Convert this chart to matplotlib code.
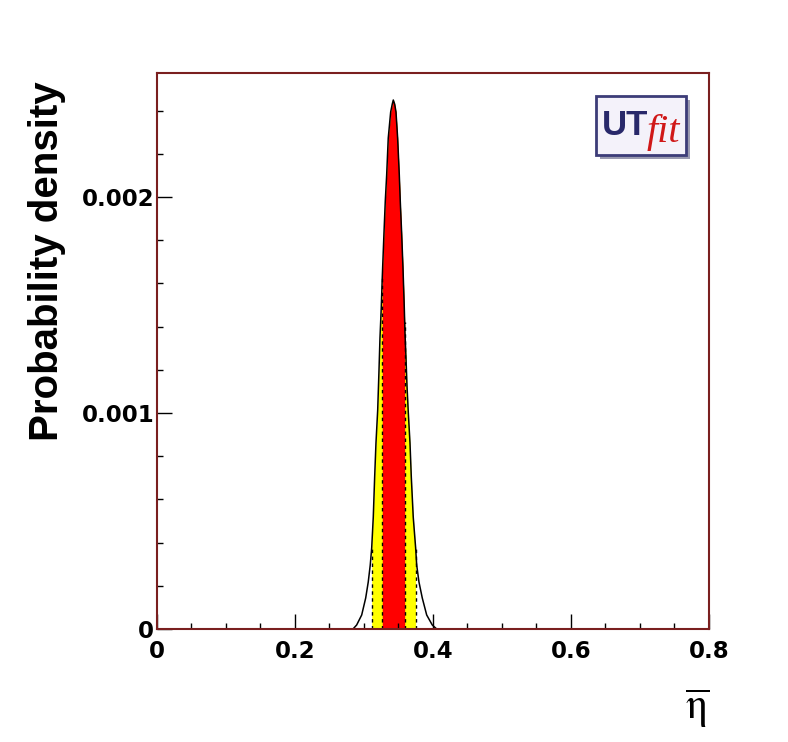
import numpy as np
import matplotlib
matplotlib.use("Agg")
import matplotlib.pyplot as plt
from matplotlib.patches import Rectangle
from matplotlib.ticker import MultipleLocator

# posterior of eta-bar
eta = np.array([0.2841, 0.2894, 0.2967, 0.3025, 0.3062, 0.3091, 0.3112, 0.3135,
                0.3155, 0.3174, 0.3199, 0.3217, 0.3232, 0.3251, 0.3265, 0.3271,
                0.3290, 0.3309, 0.3329, 0.3352, 0.3387, 0.3410, 0.3425, 0.3445,
                0.3464, 0.3488, 0.3512, 0.3526, 0.3546, 0.3565, 0.3584, 0.3590,
                0.3594, 0.3609, 0.3623, 0.3642, 0.3667, 0.3686, 0.3714, 0.3749,
                0.3764, 0.3797, 0.3845, 0.3909, 0.3990, 0.4054])
pdf = np.array([0.0, 0.0185, 0.0648, 0.1435, 0.2176, 0.2963, 0.375, 0.5185,
                0.7037, 0.8611, 1.0139, 1.1898, 1.3472, 1.4907, 1.625, 1.6759,
                1.8333, 1.9815, 2.1019, 2.2731, 2.3935, 2.430, 2.449, 2.430,
                2.3935, 2.2731, 2.1019, 1.9815, 1.8333, 1.6759, 1.4907, 1.421,
                1.375, 1.2546, 1.1296, 1.0046, 0.8611, 0.7037, 0.5185, 0.375,
                0.2963, 0.2176, 0.1435, 0.0648, 0.0185, 0.0]) * 1e-3

ci68 = [0.3265, 0.3590]
ci95 = [0.3112, 0.3749]

frame = "#7a1f1f"
plt.rcParams["mathtext.fontset"] = "stix"

fig = plt.figure(figsize=(7.88, 7.42), dpi=100)
ax = fig.add_axes([0.1992, 0.1523, 0.7005, 0.7493])

m95 = (eta >= ci95[0]) & (eta <= ci95[1])
m68 = (eta >= ci68[0]) & (eta <= ci68[1])
ax.fill_between(eta, 0, pdf, where=m95, color="#ffff00", lw=0)
ax.fill_between(eta, 0, pdf, where=m68, color="#ff0000", lw=0)
for e in ci95 + ci68:
    i = np.argmin(abs(eta - e))
    ax.vlines(eta[i], 0, pdf[i], colors="black", linestyles=(0, (2.5, 2.5)), lw=1)
ax.plot(eta, pdf, color="black", lw=1.1)

ax.set_xlim(0, 0.8)
ax.set_ylim(0, 0.002574)
ax.xaxis.set_major_locator(MultipleLocator(0.2))
ax.xaxis.set_minor_locator(MultipleLocator(0.05))
ax.yaxis.set_major_locator(MultipleLocator(0.001))
ax.yaxis.set_minor_locator(MultipleLocator(0.0002))
ax.xaxis.set_major_formatter(plt.FuncFormatter(lambda v, p: "0" if v == 0 else "%g" % v))
ax.yaxis.set_major_formatter(plt.FuncFormatter(lambda v, p: "0" if v == 0 else "%.3f" % v))

ax.tick_params(which="both", direction="in", top=False, right=False, color="black", width=1)
ax.tick_params(which="major", length=10.5)
ax.tick_params(which="minor", length=4.5)
ax.tick_params(axis="x", which="major", pad=8)
ax.tick_params(axis="y", which="major", pad=2)
for lab in ax.get_xticklabels() + ax.get_yticklabels():
    lab.set_family("DejaVu Sans")
    lab.set_fontweight("bold")
    lab.set_fontsize(16.5)

for s in ax.spines.values():
    s.set_color(frame)
    s.set_linewidth(1.5)

fig.text(0.06, 0.648, "Probability density", rotation=90, ha="center", va="center",
         family="Liberation Sans", fontweight="bold", fontsize=29)

fig.text(0.885, 0.045, r"$\overline{\mathrm{\eta}}$", ha="center", va="center", fontsize=31)

# UTfit logo
ax.add_patch(Rectangle((0.802, 0.845), 0.163, 0.106, transform=ax.transAxes,
                       facecolor="#9a9ab0", edgecolor="none", zorder=5))
ax.add_patch(Rectangle((0.795, 0.852), 0.163, 0.106, transform=ax.transAxes,
                       facecolor="#f4f2fa", edgecolor="#3c3c78", lw=2, zorder=6))
ax.text(0.806, 0.906, "UT", transform=ax.transAxes, ha="left", va="center",
        family="Liberation Sans", fontweight="bold", fontsize=25, color="#28286a", zorder=7)
ax.text(0.887, 0.893, "fit", transform=ax.transAxes, ha="left", va="center",
        family="Liberation Serif", style="italic", fontsize=29, color="#d01818", zorder=7)

fig.savefig("out.png", dpi=100)
